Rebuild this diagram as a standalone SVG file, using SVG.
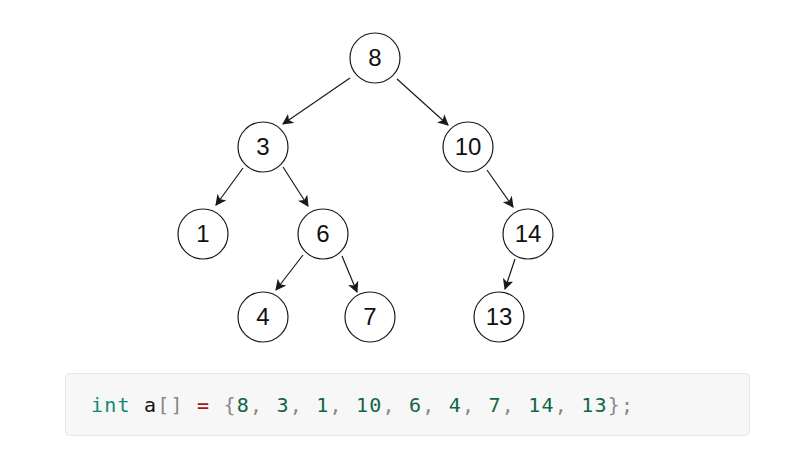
<svg xmlns="http://www.w3.org/2000/svg" width="807" height="466" viewBox="0 0 807 466">
<style>
.n circle{fill:#fff;stroke:#1a1a1a;stroke-width:1.2}
.n text{font-family:"Liberation Sans",Arial,sans-serif;font-size:24px;fill:#111;text-anchor:middle;dominant-baseline:central}
.e line{stroke:#1a1a1a;stroke-width:1.2;marker-end:url(#ah)}
.code{font-family:"DejaVu Sans Mono","Liberation Mono",monospace;font-size:20px}
</style>
<defs>
<marker id="ah" viewBox="0 0 10 10" refX="9" refY="5" markerWidth="11" markerHeight="11" markerUnits="userSpaceOnUse" orient="auto">
<path d="M0,0 L10,5 L0,10 L2.5,5 Z" fill="#1a1a1a"/>
</marker>
</defs>
<rect width="807" height="466" fill="#fff"/>
<g id="connectors" class="e">
<line x1="350" y1="78" x2="283" y2="124"/>
<line x1="397" y1="79" x2="448" y2="125"/>
<line x1="243" y1="168" x2="216" y2="205"/>
<line x1="283" y1="167" x2="308" y2="206"/>
<line x1="487" y1="170" x2="513" y2="207"/>
<line x1="303" y1="255" x2="276" y2="290"/>
<line x1="342" y1="256" x2="357" y2="292"/>
<line x1="515" y1="259" x2="505" y2="289"/>
</g>
<g id="n8" class="n"><circle cx="375" cy="58" r="25"/><text x="375" y="57">8</text></g>
<g id="n3" class="n"><circle cx="263" cy="147" r="25"/><text x="263" y="146">3</text></g>
<g id="n10" class="n"><circle cx="468" cy="147" r="25"/><text x="468" y="146">10</text></g>
<g id="n1" class="n"><circle cx="203" cy="234" r="25"/><text x="203" y="233">1</text></g>
<g id="n6" class="n"><circle cx="323" cy="234" r="25"/><text x="323" y="233">6</text></g>
<g id="n14" class="n"><circle cx="528" cy="234" r="25"/><text x="528" y="233">14</text></g>
<g id="n4" class="n"><circle cx="263" cy="317" r="25"/><text x="263" y="316">4</text></g>
<g id="n7" class="n"><circle cx="370" cy="317" r="25"/><text x="370" y="316">7</text></g>
<g id="n13" class="n"><circle cx="499" cy="317" r="25"/><text x="499" y="316">13</text></g>
<g id="code">
<rect x="65.5" y="373.5" width="684" height="62" rx="4" fill="#f7f7f7" stroke="#e4e6e8"/>
<text class="code" x="91" y="412" textLength="542" lengthAdjust="spacing"><tspan fill="#138a70">int</tspan><tspan fill="#111"> a</tspan><tspan fill="#888">[]</tspan><tspan fill="#a31515"> = </tspan><tspan fill="#888">{</tspan><tspan fill="#116644">8</tspan><tspan fill="#888">, </tspan><tspan fill="#116644">3</tspan><tspan fill="#888">, </tspan><tspan fill="#116644">1</tspan><tspan fill="#888">, </tspan><tspan fill="#116644">10</tspan><tspan fill="#888">, </tspan><tspan fill="#116644">6</tspan><tspan fill="#888">, </tspan><tspan fill="#116644">4</tspan><tspan fill="#888">, </tspan><tspan fill="#116644">7</tspan><tspan fill="#888">, </tspan><tspan fill="#116644">14</tspan><tspan fill="#888">, </tspan><tspan fill="#116644">13</tspan><tspan fill="#888">};</tspan></text>
</g>
</svg>
